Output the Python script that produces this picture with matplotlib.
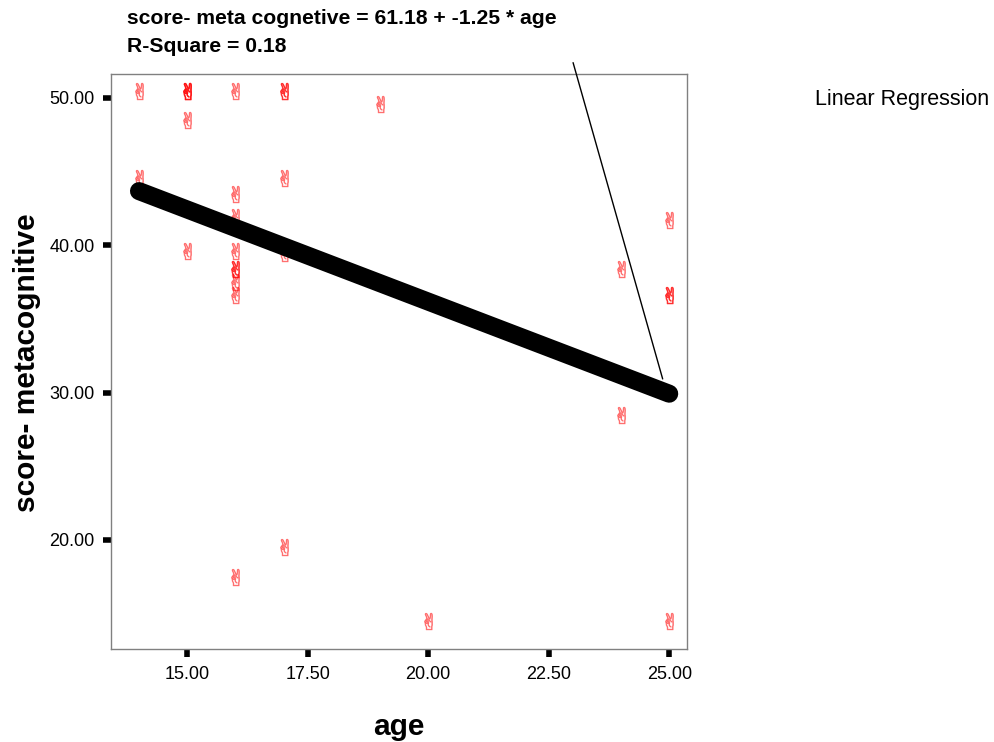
import numpy as np
from matplotlib import pyplot as plt

# data
age = [14, 14,
       15, 15, 15, 15, 15,
       16, 16, 16, 16, 16, 16, 16, 16, 16,
       17, 17, 17, 17, 17,
       19, 20, 24, 24,
       25, 25, 25, 25]
score = [50.5, 44.6,
         50.5, 50.5, 50.5, 48.5, 39.6,
         50.5, 43.5, 41.9, 39.6, 38.4, 38.4, 37.5, 36.6, 17.5,
         50.5, 50.5, 44.6, 39.5, 19.5,
         49.6, 14.5, 38.4, 28.5,
         41.7, 36.6, 36.6, 14.5]
intercept = 61.18
slope = -1.25
r_square = 0.18
x_ticks = [15.0, 17.5, 20.0, 22.5, 25.0]
y_ticks = [20.0, 30.0, 40.0, 50.0]

plt.rcParams['font.family'] = ['Liberation Sans', 'DejaVu Sans']

fig = plt.figure(figsize=(9.95, 7.42), dpi=100)
ax = fig.add_axes([0.1116, 0.1253, 0.5789, 0.775])

# scatter with the victory-hand glyph
ax.plot(age, score, linestyle='none', marker='$\u270C$', markersize=12,
        color='red', alpha=0.4, markeredgewidth=0.6)

# fitted line
fit_x = np.linspace(min(age), max(age), 100)
fit_y = intercept + slope * fit_x
ax.plot(fit_x, fit_y, color='black', linewidth=13, solid_capstyle='round')

ax.set_xlim(13.42, 25.37)
ax.set_ylim(12.6, 51.63)
ax.set_xticks(x_ticks)
ax.set_yticks(y_ticks)
ax.set_xticklabels(['%.2f' % v for v in x_ticks], fontsize=13)
ax.set_yticklabels(['%.2f' % v for v in y_ticks], fontsize=13)
ax.tick_params(direction='out', length=6, width=4, color='black', pad=6)
for s in ax.spines.values():
    s.set_color('#808080')
    s.set_linewidth(1)

# axis titles
fig.text(399 / 995, 1 - 727 / 742, 'age', fontsize=21.5, fontweight='bold',
         ha='center', va='center')
fig.text(27 / 995, 1 - 363 / 742, 'score- metacognitive', fontsize=21.5,
         fontweight='bold', rotation=90, ha='center', va='center')

# equation label with leader line
ax.annotate('', xy=(24.88, 30.75), xytext=(22.99, 52.58),
            arrowprops=dict(arrowstyle='-', color='black', lw=1),
            annotation_clip=False)
fig.text(127 / 995, 1 - 18 / 742,
         'score- meta cognetive = %.2f + %.2f * age' % (intercept, slope),
         fontsize=15.2, fontweight='bold', va='center', ha='left')
fig.text(127 / 995, 1 - 47 / 742, 'R-Square = %.2f' % r_square,
         fontsize=15.2, fontweight='bold', va='center', ha='left')
fig.text(815 / 995, 1 - 100 / 742, 'Linear Regression', fontsize=15.5,
         va='center', ha='left')

plt.savefig('out.png', dpi=100)
